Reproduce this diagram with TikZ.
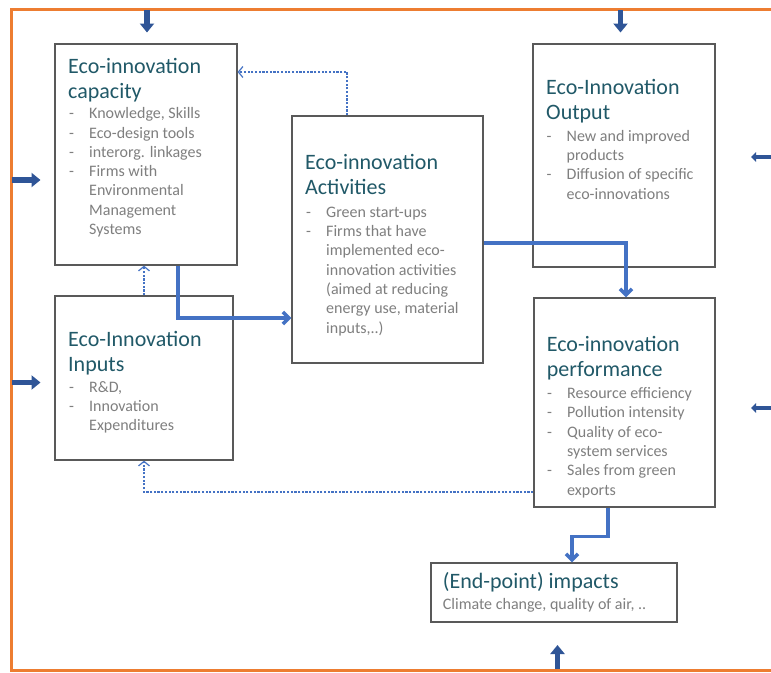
\documentclass[tikz,border=0pt]{standalone}
\usepackage{fontspec}
\setmainfont{Carlito}
\usetikzlibrary{arrows.meta}
\definecolor{frameorange}{HTML}{ED7D31}
\definecolor{darkarrow}{HTML}{2F5597}
\definecolor{connblue}{HTML}{4472C4}
\definecolor{titleteal}{HTML}{215968}
\definecolor{bodygray}{HTML}{7F7F7F}
\definecolor{boxline}{HTML}{595959}
\newcommand{\ditem}[1]{\makebox[20pt][l]{-}#1}
\newcommand{\dcont}[1]{\hspace*{20pt}#1}
\tikzset{
 ebox/.style={draw=boxline,line width=1.3pt,inner sep=0pt,fill=white},
 ttl/.style={anchor=north west,inner sep=0pt,align=left,text=titleteal,font=\fontsize{22}{25}\selectfont},
 bdy/.style={anchor=north west,inner sep=0pt,align=left,text=bodygray,font=\fontsize{16}{19.3}\selectfont},
 bigarrow/.style={draw=darkarrow,line width=5.5pt,-{Triangle[width=14pt,length=9pt]}},
 smallarrow/.style={draw=darkarrow,line width=4.5pt,-{Triangle[width=9.5pt,length=5pt]}},
 conn/.style={draw=connblue,line width=3.6pt,-{Straight Barb[length=6pt,width=12pt]}},
 dotconn/.style={draw=connblue,line width=1.2pt,dash pattern=on 2.2pt off 1.5pt,-{Straight Barb[length=4.5pt,width=11pt]}},
}
\begin{document}
\begin{tikzpicture}[x=1pt,y=-1pt]
\useasboundingbox (0,0) rectangle (771,672);
\clip (0,0) rectangle (771,672);
\fill[white] (0,0) rectangle (771,672);
% frame
\draw[frameorange,line width=3pt] (800,9) -- (11,9) -- (11,670) -- (800,670);

% boxes
\node[ebox,minimum width=182pt,minimum height=221pt] (cap) at (146,154.5) {};
\node[ebox,minimum width=191pt,minimum height=247pt] (act) at (387.5,239.5) {};
\node[ebox,minimum width=182pt,minimum height=223pt] (out) at (624,155.5) {};
\node[ebox,minimum width=178pt,minimum height=164pt] (inp) at (144,378) {};
\node[ebox,minimum width=181pt,minimum height=209pt] (perf) at (624.5,402.5) {};
\node[ebox,minimum width=246pt,minimum height=59pt] (imp) at (554,592.5) {};

% texts
\node[ttl] (cap-t) at (68,55.5) {\strut Eco-innovation\\capacity};
\node[bdy] (cap-b) at (69,105) {\strut\ditem{Knowledge, Skills}\\\ditem{Eco-design tools}\\\ditem{interorg. linkages}\\\ditem{Firms with}\\\dcont{Environmental}\\\dcont{Management}\\\dcont{Systems}};

\node[ttl] (act-t) at (305,151.5) {\strut Eco-innovation\\Activities};
\node[bdy] (act-b) at (306,203.5) {\strut\ditem{Green start-ups}\\\ditem{Firms that have}\\\dcont{implemented eco-}\\\dcont{innovation activities}\\\dcont{(aimed at reducing}\\\dcont{energy use, material}\\\dcont{inputs,..)}};

\node[ttl] (out-t) at (546,76.5) {\strut Eco-Innovation\\Output};
\node[bdy] (out-b) at (546.5,127.5) {\strut\ditem{New and improved}\\\dcont{products}\\\ditem{Diffusion of specific}\\\dcont{eco-innovations}};

\node[ttl] (inp-t) at (68,329.2) {\strut Eco-Innovation\\Inputs};
\node[bdy] (inp-b) at (69,378.5) {\strut\ditem{R\&D,}\\\ditem{Innovation}\\\dcont{Expenditures}};

\node[ttl] (perf-t) at (546.7,334.2) {\strut Eco-innovation\\performance};
\node[bdy] (perf-b) at (547,384.8) {\strut\ditem{Resource efficiency}\\\ditem{Pollution intensity}\\\ditem{Quality of eco-}\\\dcont{system services}\\\ditem{Sales from green}\\\dcont{exports}};

\node[ttl] (imp-t) at (442.7,570.8) {\strut(End-point) impacts};
\node[bdy] (imp-b) at (442.7,595.8) {\strut Climate change, quality of air, ..};

% solid connectors
\draw[conn] (cap.south -| 178,0) |- (act.west |- 0,318);
\draw[conn] (act.east |- 0,243) -| (perf.north -| 626,0);
\draw[conn] (perf.south -| 608,0) -- ++(0,29) -| (imp.north -| 572,0);

% dotted connectors
\draw[dotconn] (act.north -| 347,0) |- (cap.east |- 0,72);
\draw[dotconn] (inp.north -| 144,0) -- (cap.south -| 144,0);
\draw[dotconn] (perf.west |- 0,492) -| (inp.south -| 144,0);

% external arrows
\coordinate (ta) at (147,10);
\coordinate (tb) at (620.5,10);
\coordinate (la) at (12,180);
\coordinate (lb) at (12,382.5);
\coordinate (ra) at (775,157);
\coordinate (rb) at (775,408);
\coordinate (ba) at (557.5,669);
\draw[bigarrow] (ta) -- ++(0,22.5);
\draw[bigarrow] (tb) -- ++(0,22.5);
\draw[bigarrow] (la) -- ++(28.5,0);
\draw[bigarrow] (lb) -- ++(28.5,0);
\draw[smallarrow] (ra) -- ++(-24,0);
\draw[smallarrow] (rb) -- ++(-24,0);
\draw[bigarrow] (ba) -- ++(0,-24);
\end{tikzpicture}
\end{document}
